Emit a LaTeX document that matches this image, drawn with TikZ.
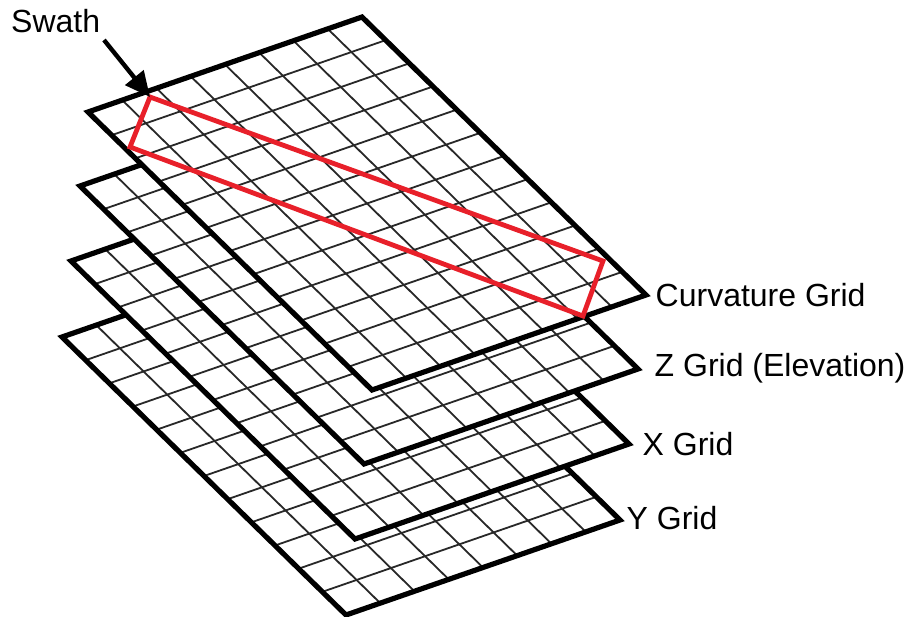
\documentclass[tikz,border=0pt]{standalone}
\usepackage{fontspec}
\setmainfont{Liberation Sans}
\usetikzlibrary{arrows.meta}
\definecolor{swathred}{RGB}{232,32,42}
\definecolor{gridgray}{RGB}{40,40,40}
\tikzset{
  gridline/.style={draw=gridgray, line width=1.8pt},
  borderline/.style={draw=black, line width=5.2pt, line join=miter},
  sheet/.style={fill=white},
  lbl/.style={anchor=base west, inner sep=0pt, font=\fontsize{32}{38}\selectfont},
  swathbox/.style={draw=swathred, line width=4.8pt, line join=miter},
}
\begin{document}
\begin{tikzpicture}[x=1pt,y=-1pt]
\useasboundingbox (0,0) rectangle (915,617);
\foreach \k/\lx/\ly in {4/62/337, 3/71/261, 2/80/186, 1/88/112} {
  \begin{scope}[shift={(\lx,\ly)}]
    \coordinate (L\k) at (0,0);
    \coordinate (T\k) at (274,-95);
    \coordinate (R\k) at (558,183);
    \coordinate (B\k) at (284,278);
    \path[sheet] (L\k) -- (T\k) -- (R\k) -- (B\k) -- cycle;
    \foreach \i in {1,...,7}
      \draw[gridline] ({\i*34.25},{-\i*11.875}) -- ++(284,278);
    \foreach \j in {1,...,11}
      \draw[gridline] ({\j*284/12},{\j*278/12}) -- ++(274,-95);
    \draw[borderline] (L\k) -- (T\k) -- (R\k) -- (B\k) -- cycle;
  \end{scope}
}
% swath
\coordinate (s1) at (150,97);
\coordinate (s2) at (603,261);
\coordinate (s3) at (583,316);
\coordinate (s4) at (130,147);
\draw[swathbox] (s1) -- (s2) -- (s3) -- (s4) -- cycle;
% labels
\node[lbl] (swath) at (11,33) {Swath};
\node[lbl] (curv) at (655.5,306.5) {Curvature Grid};
\node[lbl] (zg) at (654.5,376.5) {Z Grid (Elevation)};
\node[lbl] (xg) at (642.5,455) {X Grid};
\node[lbl] (yg) at (626.5,529) {Y Grid};
% arrow
\coordinate (arrstart) at (104,40);
\draw[line width=4.4pt, -{Triangle[length=25pt,width=23pt]}] (arrstart) -- (s1);
\end{tikzpicture}
\end{document}
